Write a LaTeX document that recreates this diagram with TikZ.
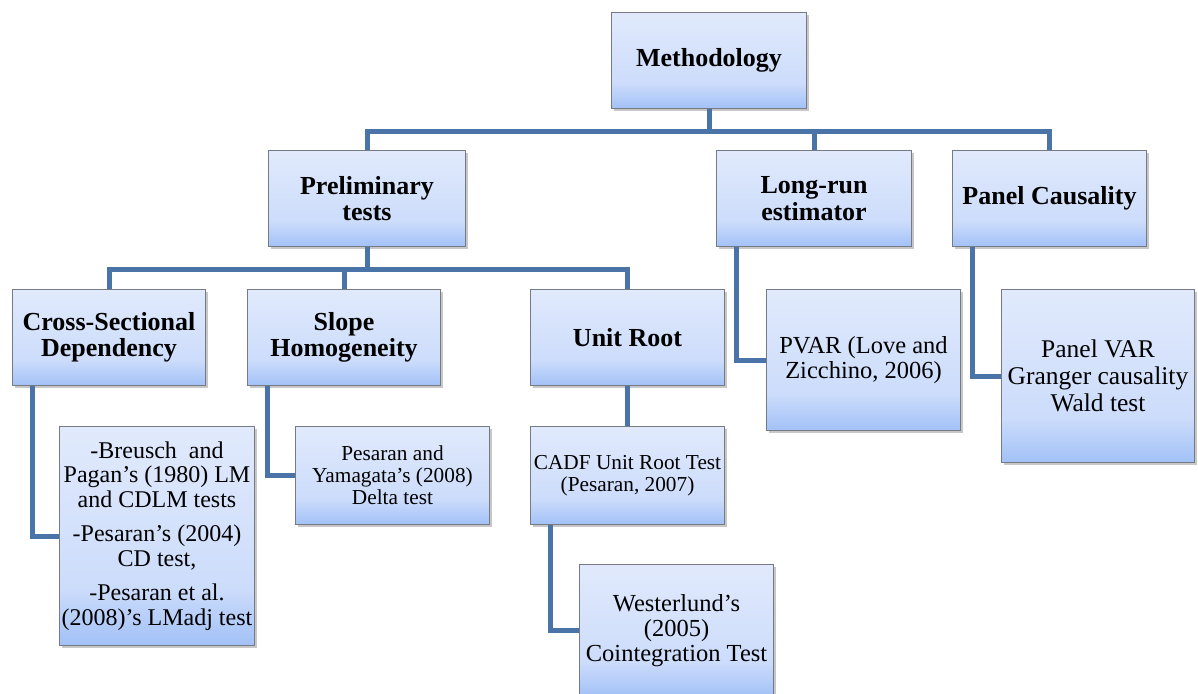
\documentclass[tikz,border=0pt]{standalone}
\usepackage{fontspec}
\setmainfont{Liberation Serif}
\usetikzlibrary{shadows}
\definecolor{conncol}{RGB}{74,116,168}
\definecolor{ftop}{RGB}{225,234,252}
\definecolor{fmid}{RGB}{204,220,251}
\definecolor{fbot}{RGB}{162,193,247}
\definecolor{bord}{RGB}{118,122,130}
\pgfdeclareverticalshading{boxshade}{100bp}{color(0bp)=(fbot); color(25bp)=(fbot); color(38bp)=(fmid); color(75bp)=(ftop); color(100bp)=(ftop)}
\tikzset{
  box/.style={draw=bord, line width=1pt, shading=boxshade,
    anchor=north west, align=center, inner sep=2pt,
    drop shadow={shadow xshift=2pt, shadow yshift=-2.5pt, fill=black, opacity=0.22}},
  hdr/.style={box, font=\fontsize{26}{26.5}\selectfont\bfseries},
  txt/.style={box, font=\fontsize{24.5}{25}\selectfont},
  sml/.style={box, font=\fontsize{21.3}{21.8}\selectfont},
  link/.style={draw=conncol, line width=5pt},
}
\begin{document}
\begin{tikzpicture}[x=1pt,y=-1pt]
\useasboundingbox (0,0) rectangle (1198,693);
% level 0
\node[hdr, minimum width=195pt, minimum height=96pt] (meth) at (611,12) {Methodology};
% level 1
\node[hdr, minimum width=197pt, minimum height=96pt] (prelim) at (268,150) {Preliminary\\tests};
\node[hdr, minimum width=195pt, minimum height=96pt] (longrun) at (716,150) {Long-run\\estimator};
\node[hdr, minimum width=194pt, minimum height=96pt] (panel) at (952,150) {Panel Causality};
% level 2
\node[hdr, minimum width=193pt, minimum height=96pt] (cross) at (12,289) {Cross-Sectional\\Dependency};
\node[hdr, minimum width=193pt, minimum height=96pt] (slope) at (247,289) {Slope\\Homogeneity};
\node[hdr, minimum width=194pt, minimum height=96pt] (unit) at (530,289) {Unit Root};
% leaves
\node[box, font=\fontsize{24}{24.5}\selectfont, minimum width=195pt, minimum height=219pt, inner xsep=1pt] (cchild) at (59,426)
  {-Breusch\ \ and\\Pagan’s (1980) LM\\and CDLM tests\\[10pt]-Pesaran’s (2004)\\CD test,\\[10pt]-Pesaran et al.\\(2008)’s LMadj test};
\node[sml, minimum width=194pt, minimum height=98pt] (schild) at (295,426)
  {Pesaran and\\Yamagata's (2008)\\Delta test};
\node[sml, minimum width=194pt, minimum height=98pt] (cadf) at (530,426)
  {CADF Unit Root Test\\(Pesaran, 2007)};
\node[txt, minimum width=194pt, minimum height=132pt] (west) at (579,564)
  {Westerlund’s\\(2005)\\Cointegration Test};
\node[txt, minimum width=194pt, minimum height=141pt] (pvar) at (766,289)
  {PVAR (Love and\\Zicchino, 2006)};
\node[box, font=\fontsize{25.5}{27}\selectfont, minimum width=193pt, minimum height=173pt] (pvarg) at (1001,289)
  {Panel VAR\\Granger causality\\Wald test};
% connectors
\draw[link] (meth.south) -- ++(0,22) -| (prelim.north);
\draw[link] (meth.south) -- ++(0,22) -| (longrun.north);
\draw[link] (meth.south) -- ++(0,22) -| (panel.north);
\draw[link] (prelim.south) -- ++(0,22) -| (cross.north);
\draw[link] (prelim.south) -- ++(0,22) -| (slope.north);
\draw[link] (prelim.south) -- ++(0,22) -| (unit.north);
\draw[link] (unit.south) -- (cadf.north);
\draw[link] ([xshift=20pt]cross.south west) |- (cchild.west);
\draw[link] ([xshift=20pt]slope.south west) |- (schild.west);
\draw[link] ([xshift=20pt]cadf.south west) |- (west.west);
\draw[link] ([xshift=20pt]longrun.south west) |- (pvar.west);
\draw[link] ([xshift=20pt]panel.south west) |- (pvarg.west);
\end{tikzpicture}
\end{document}
